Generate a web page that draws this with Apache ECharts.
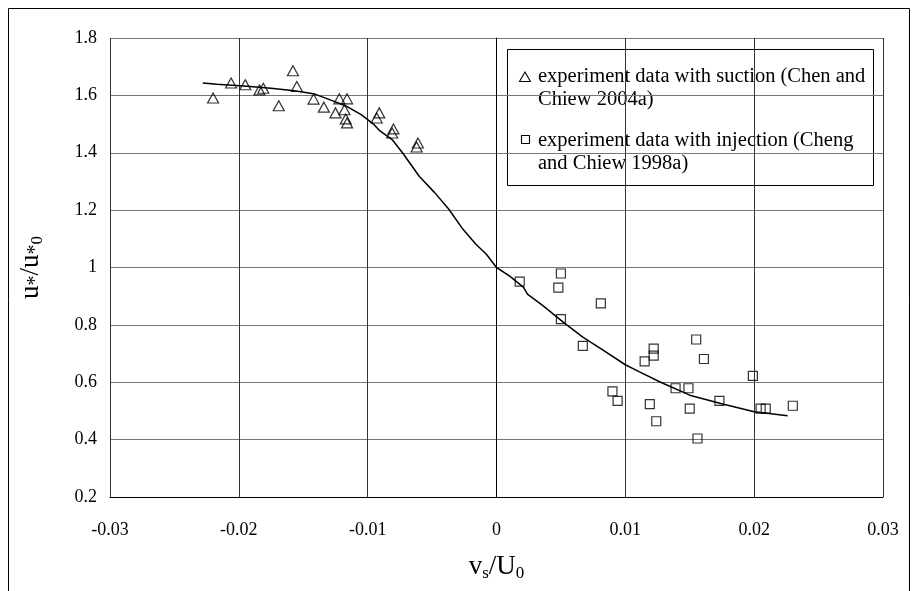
<!DOCTYPE html>
<html><head><meta charset="utf-8">
<script src="https://cdn.jsdelivr.net/npm/echarts@6/dist/echarts.min.js"></script>
<style>html,body{margin:0;padding:0;background:#fff}#c{width:918px;height:591px}</style>
</head><body><div id="c"></div>
<script>
// suction data (triangles)
const suctionX = [-0.0220,-0.0206,-0.0195,-0.0184,-0.0181,-0.0169,-0.0158,-0.0155,-0.0142,-0.0134,-0.0125,-0.0122,-0.0116,-0.0118,-0.0117,-0.0116,-0.0093,-0.0091,-0.0081,-0.0080,-0.0062,-0.0061];
const suctionY = [1.591,1.643,1.637,1.619,1.625,1.564,1.686,1.631,1.587,1.559,1.539,1.588,1.588,1.550,1.518,1.504,1.521,1.539,1.469,1.483,1.420,1.434];
// injection data (squares)
const injectionX = [0.0018,0.0050,0.0048,0.0081,0.0050,0.0067,0.0090,0.0094,0.0122,0.0122,0.0115,0.0155,0.0161,0.0199,0.0139,0.0149,0.0173,0.0119,0.0150,0.0124,0.0156,0.0205,0.0209,0.0230];
const injectionY = [0.951,0.979,0.930,0.875,0.820,0.727,0.568,0.535,0.717,0.693,0.673,0.749,0.681,0.622,0.579,0.579,0.535,0.524,0.508,0.464,0.404,0.508,0.508,0.518];
// fitted curve
const curveX = [-0.0228,-0.0217,-0.0196,-0.0175,-0.0157,-0.0142,-0.0126,-0.0116,-0.0105,-0.0095,-0.0091,-0.0081,-0.0073,-0.0060,-0.0048,-0.0037,-0.0026,-0.0016,-0.0008,0.0000,0.0010,0.0021,0.0024,0.0036,0.0052,0.0067,0.0083,0.0100,0.0111,0.0127,0.0150,0.0174,0.0200,0.0226];
const curveY = [1.643,1.639,1.633,1.625,1.616,1.606,1.579,1.561,1.533,1.498,1.478,1.446,1.400,1.318,1.261,1.203,1.133,1.081,1.047,1.000,0.971,0.931,0.907,0.867,0.809,0.757,0.711,0.661,0.636,0.601,0.555,0.526,0.497,0.483];
// axis ticks
const xTicks = {min:-0.03, max:0.03, step:0.01};
const yTicks = {min:0.2, max:1.8, step:0.2};

const font = '"Liberation Serif","Times New Roman",serif';
const zip = (a,b)=>a.map((v,i)=>[v,b[i]]);
const chart = echarts.init(document.getElementById('c'), null, {renderer:'canvas'});
const option = {
  animation:false,
  backgroundColor:'#fff',
  grid:{left:110,right:35,top:38,bottom:94,containLabel:false},
  xAxis:{
    type:'value', min:xTicks.min, max:xTicks.max, interval:xTicks.step,
    axisLine:{show:true,onZero:false,lineStyle:{color:'#000',width:1}},
    axisTick:{show:false},
    axisLabel:{fontFamily:font,fontSize:18,color:'#000',margin:24},
    splitLine:{show:true,lineStyle:{color:'#333',width:1}},
    name:'{n|v}{b|s}{n|/U}{b|0}', nameLocation:'middle', nameGap:55,
    nameTextStyle:{color:'#000',rich:{
      n:{fontFamily:font,fontSize:27,lineHeight:30,color:'#000'},
      b:{fontFamily:font,fontSize:17,lineHeight:10,verticalAlign:'bottom',color:'#000'}
    }}
  },
  yAxis:{
    type:'value', min:yTicks.min, max:yTicks.max, interval:yTicks.step,
    axisLine:{show:true,lineStyle:{color:'#000',width:1}},
    axisTick:{show:false},
    axisLabel:{fontFamily:font,fontSize:18,color:'#000',margin:13},
    splitLine:{show:true,lineStyle:{color:'#777',width:1}},
    name:'{n|u}{s|*}{n|/u}{s|*}{b|0}', nameLocation:'middle', nameGap:64, nameRotate:90,
    nameTextStyle:{color:'#000',rich:{
      n:{fontFamily:font,fontSize:27,lineHeight:30,color:'#000'},
      s:{fontFamily:font,fontSize:20,lineHeight:16,verticalAlign:'bottom',color:'#000'},
      b:{fontFamily:font,fontSize:17,lineHeight:10,verticalAlign:'bottom',color:'#000'}
    }}
  },
  series:[
    {name:'experiment data with suction (Chen and Chiew 2004a)', type:'scatter', data:zip(suctionX,suctionY),
     symbol:'triangle', symbolSize:[11,10],
     itemStyle:{color:'rgba(0,0,0,0)',borderColor:'#000',borderWidth:1.2}, z:3},
    {name:'experiment data with injection (Cheng and Chiew 1998a)', type:'scatter', data:zip(injectionX,injectionY),
     symbol:'rect', symbolSize:9,
     itemStyle:{color:'rgba(0,0,0,0)',borderColor:'#000',borderWidth:1.2}, z:3},
    {name:'curve', type:'line', data:zip(curveX,curveY), showSymbol:false, symbol:'none',
     lineStyle:{color:'#000',width:1.5}, z:4}
  ],
  graphic:[
    {type:'rect', silent:true, z:-10, shape:{x:8.5,y:8.5,width:901,height:640},
     style:{fill:'none',stroke:'#000',lineWidth:1}},
    {type:'group', z:100, children:[
      {type:'rect', shape:{x:507.5,y:49.5,width:366,height:136}, style:{fill:'#fff',stroke:'#000',lineWidth:1}},
      {type:'polygon', shape:{points:[[525,72],[519.5,81.5],[530.5,81.5]]}, style:{fill:'none',stroke:'#000',lineWidth:1.1}},
      {type:'rect', shape:{x:521.5,y:135.5,width:8,height:8}, style:{fill:'none',stroke:'#000',lineWidth:1.1}},
      {type:'text', x:538, y:65, style:{text:'experiment data with suction (Chen and\nChiew 2004a)', font:'20.5px "Liberation Serif"', lineHeight:23, fill:'#000', verticalAlign:'top'}},
      {type:'text', x:538, y:129, style:{text:'experiment data with injection (Cheng\nand Chiew 1998a)', font:'20.5px "Liberation Serif"', lineHeight:23, fill:'#000', verticalAlign:'top'}}
    ]}
  ]
};
chart.setOption(option);
</script>
</body></html>
